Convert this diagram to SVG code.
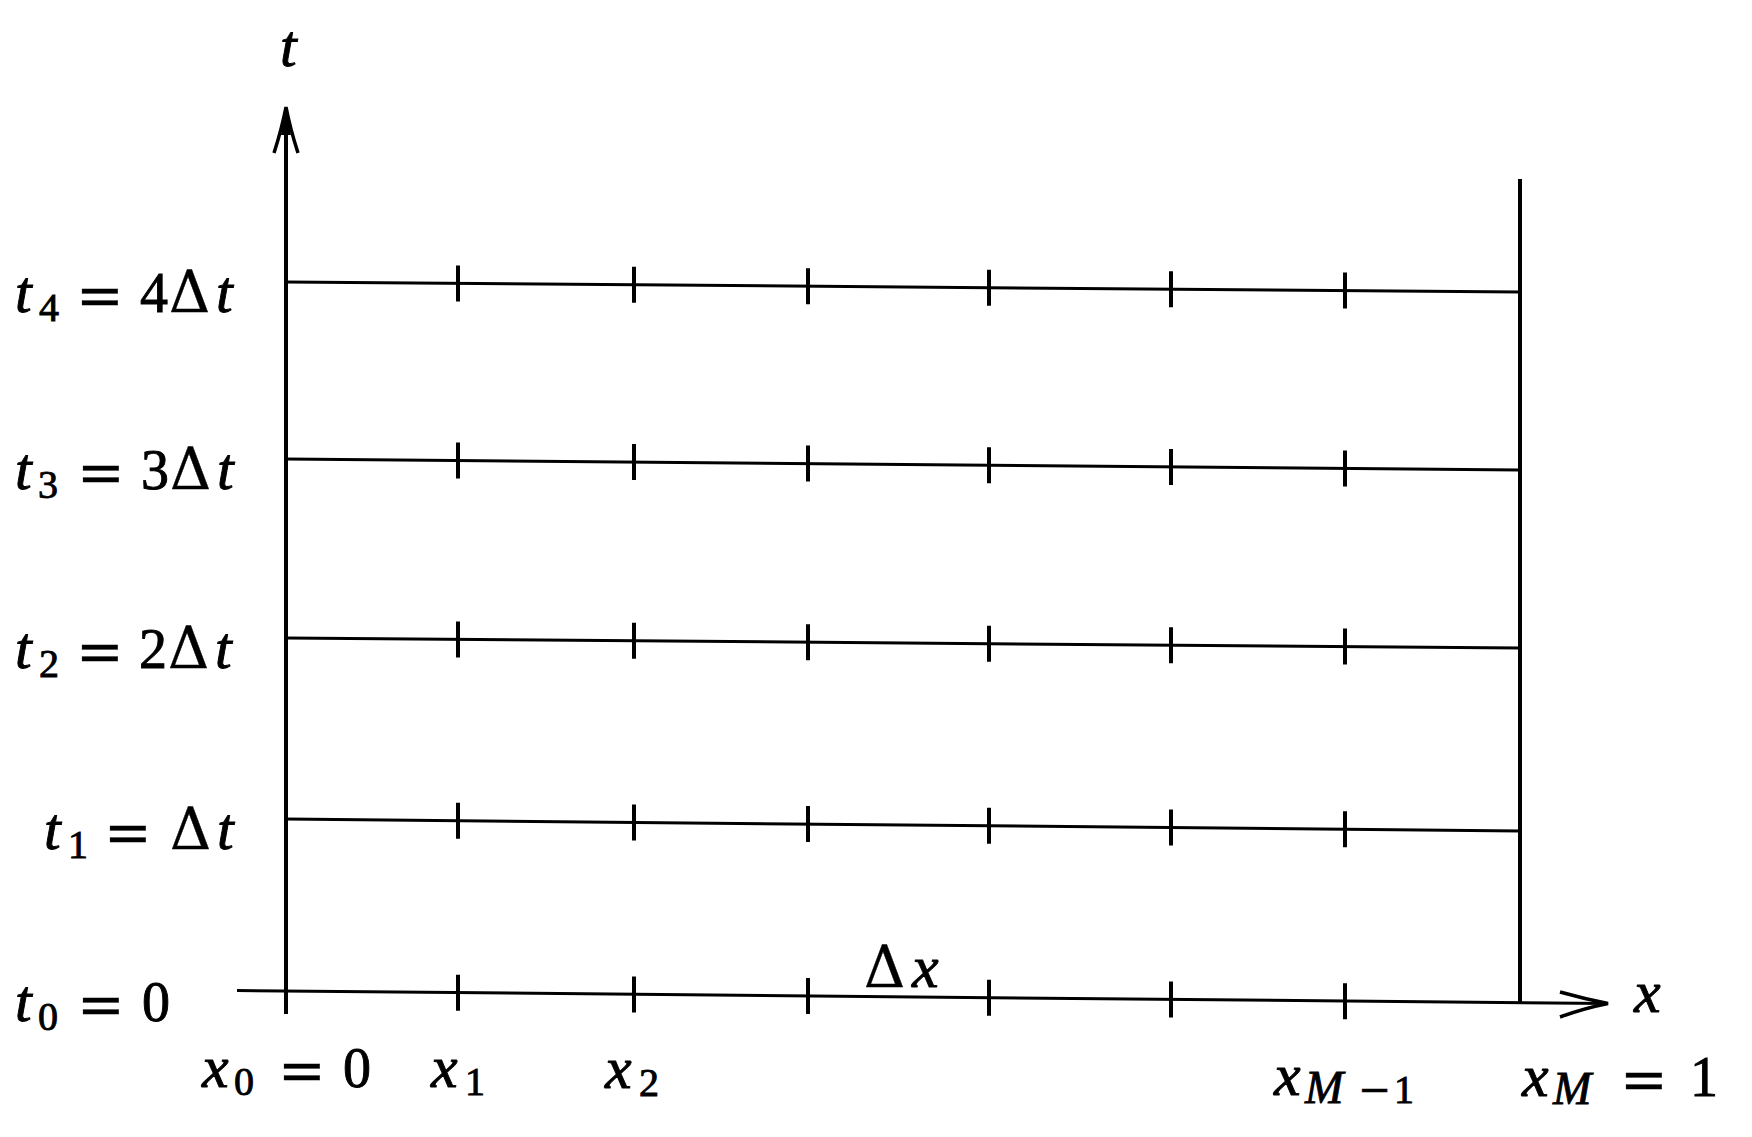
<svg xmlns="http://www.w3.org/2000/svg" width="1752" height="1137" viewBox="0 0 1752 1137">
<style>
.ax{stroke:#000;stroke-width:4;fill:none;stroke-linecap:butt}
.gl{stroke:#000;stroke-width:3;fill:none}
.tk{stroke:#000;stroke-width:4;fill:none}
.ah{stroke:#000;stroke-width:3.5;fill:none;stroke-linejoin:miter}
text{font-family:"Liberation Serif","Times New Roman",serif;font-size:56px;fill:#000;stroke:#000;stroke-width:0.9}
.v{font-style:italic;font-size:60px}
.s{font-size:40px}
.sv{font-style:italic;font-size:46px}
.eq{font-family:"DejaVu Serif",serif;font-size:57px;stroke-width:0.3}
.mi{font-family:"DejaVu Serif",serif;font-size:40px;stroke-width:0.3}
.d{font-family:"DejaVu Serif",serif;font-size:57px;stroke-width:0.4}
</style>
<rect x="0" y="0" width="1752" height="1137" fill="#fff"/>
<g id="connectors">
  <g id="t-axis">
    <line class="ax" x1="286" y1="1014" x2="286" y2="112"/>
    <path class="ah" d="M274,153 Q282,128 286,107 Q290,128 298,153"/>
    <path d="M281,135 L286,108 L291,135 Z" fill="#000"/>
  </g>
  <g id="x-axis">
    <line class="gl" x1="237" y1="990.5" x2="1606" y2="1003.5"/>
    <path class="ah" d="M1560,992 Q1585,999 1608,1003.5 Q1585,1008 1560,1017"/>
  </g>
  <line id="right-boundary" class="ax" x1="1520" y1="179" x2="1520" y2="1004"/>
  <g id="grid-lines">
    <line class="gl" x1="286" y1="282" x2="1520" y2="292"/>
    <line class="gl" x1="286" y1="459" x2="1520" y2="470"/>
    <line class="gl" x1="286" y1="638" x2="1520" y2="648"/>
    <line class="gl" x1="286" y1="819" x2="1520" y2="831"/>
  </g>
  <g id="ticks">
    <path class="tk" d="M458,265.4v36 M634,266.8v36 M808,268.2v36 M989,269.7v36 M1171,271.2v36 M1345,272.6v36"/>
    <path class="tk" d="M458,442.5v36 M634,444.1v36 M808,445.6v36 M989,447.3v36 M1171,448.9v36 M1345,450.4v36"/>
    <path class="tk" d="M458,621.4v36 M634,622.8v36 M808,624.2v36 M989,625.7v36 M1171,627.2v36 M1345,628.6v36"/>
    <path class="tk" d="M458,802.7v36 M634,804.4v36 M808,806.1v36 M989,807.8v36 M1171,809.6v36 M1345,811.3v36"/>
    <path class="tk" d="M286,973v40 M458,974.7v36 M634,976.4v36 M808,978.1v36 M989,979.8v36 M1171,981.6v36 M1345,983.3v36"/>
  </g>
</g>
<g id="label-t"><text class="v" x="280" y="66">t</text></g>
<g id="label-x"><text class="v" x="1634" y="1012">x</text></g>
<g id="label-dx"><text y="987"><tspan class="d" x="864">Δ</tspan><tspan class="v" x="912">x</tspan></text></g>
<g id="label-t4"><text y="312"><tspan class="v" x="15">t</tspan><tspan class="s" x="39" dy="9">4</tspan><tspan class="eq" x="76" dy="-6">=</tspan><tspan x="140" dy="-3">4</tspan><tspan class="d" x="169">Δ</tspan><tspan class="v" x="216">t</tspan></text></g>
<g id="label-t3"><text y="489"><tspan class="v" x="15">t</tspan><tspan class="s" x="38" dy="9">3</tspan><tspan class="eq" x="77" dy="-6">=</tspan><tspan x="141" dy="-3">3</tspan><tspan class="d" x="170">Δ</tspan><tspan class="v" x="217">t</tspan></text></g>
<g id="label-t2"><text y="668"><tspan class="v" x="15">t</tspan><tspan class="s" x="39" dy="9">2</tspan><tspan class="eq" x="76" dy="-6">=</tspan><tspan x="139" dy="-3">2</tspan><tspan class="d" x="168">Δ</tspan><tspan class="v" x="215">t</tspan></text></g>
<g id="label-t1"><text y="849"><tspan class="v" x="44">t</tspan><tspan class="s" x="68" dy="9">1</tspan><tspan class="eq" x="104" dy="-6">=</tspan><tspan class="d" x="170" dy="-3">Δ</tspan><tspan class="v" x="217">t</tspan></text></g>
<g id="label-t0"><text y="1021"><tspan class="v" x="15">t</tspan><tspan class="s" x="38" dy="9">0</tspan><tspan class="eq" x="77" dy="-6">=</tspan><tspan x="142" dy="-3">0</tspan></text></g>
<g id="label-x0"><text y="1087"><tspan class="v" x="202">x</tspan><tspan class="s" x="234" dy="8">0</tspan><tspan class="eq" x="278" dy="-5">=</tspan><tspan x="343" dy="-3">0</tspan></text></g>
<g id="label-x1"><text y="1087"><tspan class="v" x="431">x</tspan><tspan class="s" x="465" dy="8">1</tspan></text></g>
<g id="label-x2"><text y="1088"><tspan class="v" x="605">x</tspan><tspan class="s" x="639" dy="8">2</tspan></text></g>
<g id="label-xM-1"><text y="1095"><tspan class="v" x="1274">x</tspan><tspan class="sv" x="1305" dy="8">M</tspan><tspan class="mi" x="1358">−</tspan><tspan class="s" x="1394">1</tspan></text></g>
<g id="label-xM"><text y="1096"><tspan class="v" x="1522">x</tspan><tspan class="sv" x="1553" dy="8">M</tspan><tspan class="eq" x="1620" dy="-5">=</tspan><tspan x="1690" dy="-3">1</tspan></text></g>
</svg>
